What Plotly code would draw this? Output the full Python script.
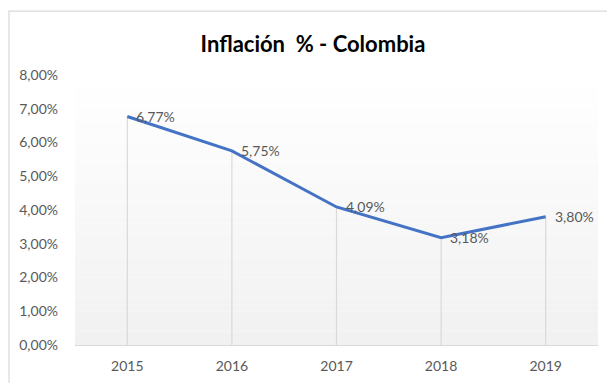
import plotly.graph_objects as go

# Inflation data (percent)
years = ["2015", "2016", "2017", "2018", "2019"]
inflation = [6.77, 5.75, 4.09, 3.18, 3.80]
y_ticks = [0, 1, 2, 3, 4, 5, 6, 7, 8]

W, H = 607, 383
L, R, T, B = 75, 9, 75, 35
pw, ph = W - L - R, H - T - B

grey_text = "#595959"
font_family = "Lato, 'Open Sans', sans-serif"


def pct(v):
    return f"{v:.2f}%".replace(".", ",")


fig = go.Figure()

# vertical drop lines from each point down to the axis
drop_x, drop_y = [], []
for yr, v in zip(years, inflation):
    drop_x += [yr, yr, None]
    drop_y += [0, v, None]
fig.add_trace(go.Scatter(
    x=drop_x, y=drop_y, mode="lines",
    line=dict(color="#d9d9d9", width=1.2),
    hoverinfo="skip", showlegend=False,
))

fig.add_trace(go.Scatter(
    x=years, y=inflation, mode="lines",
    line=dict(color="#4472C4", width=3),
    showlegend=False,
))

# data labels to the right of each point (category index on the x axis)
annotations = [
    dict(x=i, y=v, xref="x", yref="y", text=pct(v), showarrow=False,
         xanchor="left", yanchor="middle", xshift=7,
         font=dict(color=grey_text, size=14, family=font_family))
    for i, v in enumerate(inflation)
]

# soft vertical gradient behind the plot area
shapes = []
n = 40
top_c, bot_c = 255, 241
for i in range(n):
    f = i / (n - 1)
    c = round(top_c + (bot_c - top_c) * f)
    shapes.append(dict(
        type="rect", xref="paper", yref="paper",
        x0=0, x1=1, y0=1 - (i + 1) / n, y1=1 - i / n,
        fillcolor=f"rgb({c},{c},{c})", line=dict(width=0), layer="below",
    ))


def px_to_paper_x(px):
    return (px - L) / pw


def px_to_paper_y(py):
    return (H - B - py) / ph


# chart border
shapes.append(dict(
    type="rect", xref="paper", yref="paper",
    x0=px_to_paper_x(9), x1=px_to_paper_x(620),
    y0=px_to_paper_y(400), y1=px_to_paper_y(10.5),
    line=dict(color="#d9d9d9", width=1.2), fillcolor="rgba(0,0,0,0)",
    layer="below",
))

fig.update_layout(
    width=W, height=H,
    margin=dict(l=L, r=R, t=T, b=B),
    paper_bgcolor="white", plot_bgcolor="rgba(0,0,0,0)",
    title=dict(
        text="<b>Inflación  % - Colombia</b>",
        x=313 / W, xanchor="center",
        y=1 - 44 / H, yanchor="middle",
        font=dict(size=22, color="#000000", family=font_family),
    ),
    shapes=shapes,
    annotations=annotations,
    font=dict(family=font_family, color=grey_text, size=14),
)

fig.update_xaxes(
    type="category", range=[-0.5, 4.5],
    showgrid=False, zeroline=False,
    showline=True, linecolor="#d9d9d9", linewidth=1.2,
    ticks="", ticklabelstandoff=8,
    tickfont=dict(size=14, color=grey_text, family=font_family),
)
fig.update_yaxes(
    range=[0, 8], tickvals=y_ticks, ticktext=[pct(t) for t in y_ticks],
    showgrid=False, zeroline=False, showline=False,
    ticks="", ticklabelstandoff=16,
    tickfont=dict(size=14, color=grey_text, family=font_family),
)

fig.write_html("out.html")
